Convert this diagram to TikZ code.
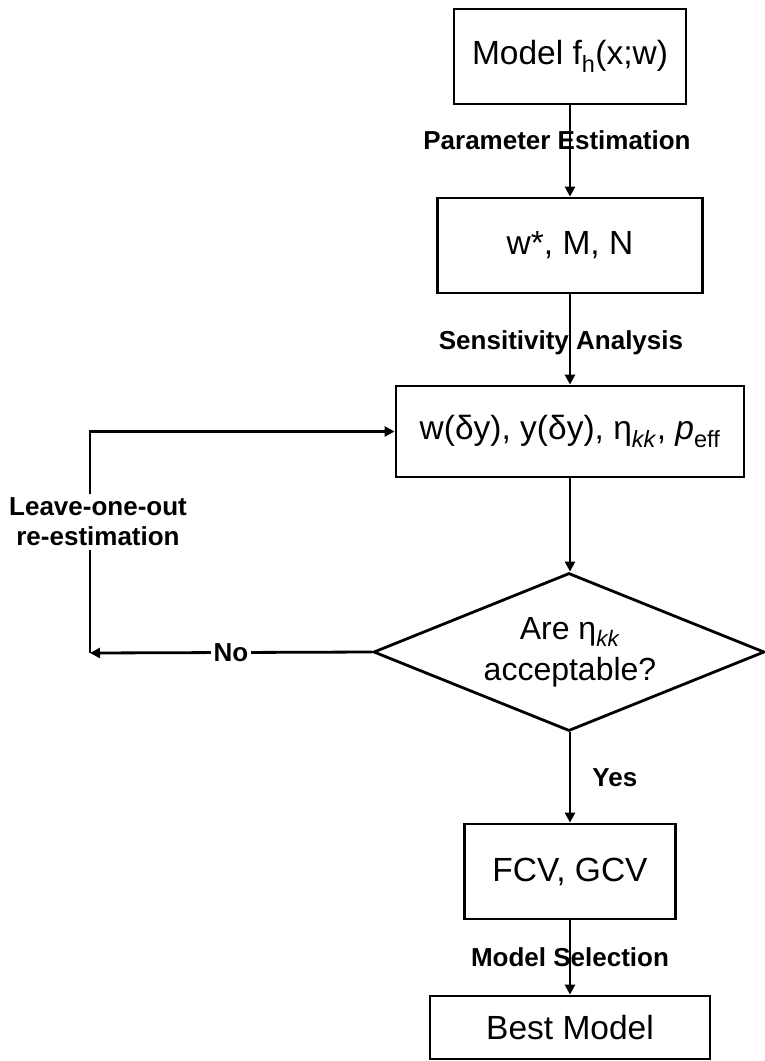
\documentclass[tikz,border=0pt]{standalone}
\usepackage{fontspec}
\setmainfont{Liberation Sans}
\usetikzlibrary{shapes.geometric,arrows.meta}
\begin{document}
\begin{tikzpicture}[x=1pt,y=-1pt,
  box/.style={draw, line width=2.8pt, inner sep=0pt, font=\fontsize{33.5}{38}\selectfont},
  lbl/.style={font=\bfseries\fontsize{26}{30}\selectfont, inner sep=1pt},
  arr/.style={line width=2.8pt, -{Triangle[length=10pt,width=10pt]}}]
\useasboundingbox (0,0) rectangle (764,1061);
\node[box, minimum width=232pt, minimum height=95pt] (b1) at (570,56.5) {Model f\textsubscript{h}(x;w)};
\node[box, minimum width=265pt, minimum height=95pt] (b2) at (570,245.5) {w*, M, N};
\node[box, minimum width=348pt, minimum height=91pt] (b3) at (570,431.5) {w(δy), y(δy), η\textsubscript{\textit{kk}}, \textit{p}\textsubscript{eff}};
\node[diamond, draw, line width=2.8pt, minimum width=391pt, minimum height=158pt, inner sep=0pt] (dia) at (569,652) {};
\node[align=center, font=\fontsize{32}{41}\selectfont, inner sep=0pt] (dtxt) at (570,652) {Are η\textsubscript{\textit{kk}}\\acceptable?};
\node[box, minimum width=211pt, minimum height=95pt] (b4) at (570,871.5) {FCV, GCV};
\node[box, minimum width=280pt, minimum height=63pt] (b5) at (570,1027.5) {Best Model};
\coordinate (corner) at (90,653);

\draw[arr] (b1.south) -- (b2.north);
\node[lbl] (l1) at (557,140) {Parameter Estimation};
\draw[arr] (b2.south) -- (b3.north);
\node[lbl] (l2) at (561,343) {Sensitivity Analysis};
\draw[arr] (b3.south) -- (b3.south |- dia.north);
\draw[arr] (dia.west) -- node[lbl, fill=white, inner sep=3pt] (lno) {No} (corner);
\draw[arr] (corner) |- (b3.west);
\node[lbl, fill=white, align=center, inner sep=4pt] (loo) at (98,522) {Leave-one-out\\re-estimation};
\draw[arr] (b4.north |- dia.south) -- node[lbl, right=20pt] (lyes) {Yes} (b4.north);
\draw[arr] (b4.south) -- (b5.north);
\node[lbl] (l3) at (570,957) {Model Selection};
\end{tikzpicture}
\end{document}
